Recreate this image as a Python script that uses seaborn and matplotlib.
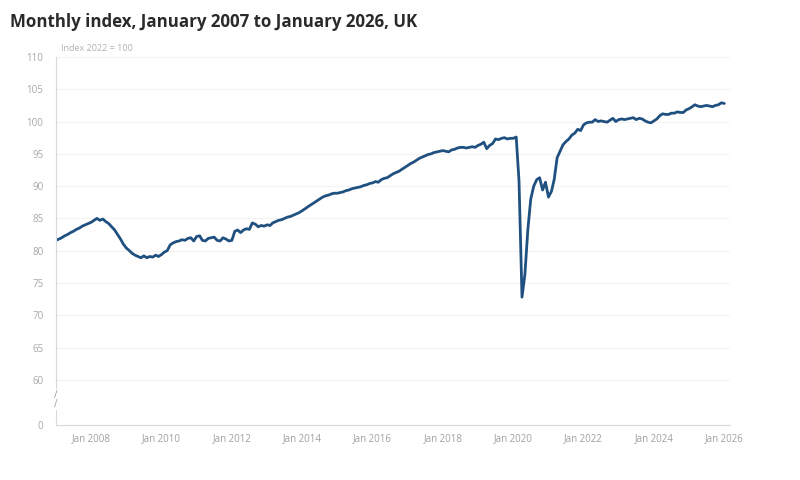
import seaborn as sns
import matplotlib.pyplot as plt
import matplotlib.dates as mdates
import pandas as pd

# --- Data: monthly index values, Jan 2007 to Jan 2026 ---
idx_2007 = [81.6, 81.8, 82.0, 82.3, 82.5, 82.8, 83.0, 83.3, 83.5, 83.8, 84.0, 84.2]
idx_2008 = [84.4, 84.7, 85.0, 84.7, 84.9, 84.5, 84.2, 83.7, 83.2, 82.5, 81.8, 81.0]
idx_2009 = [80.4, 80.0, 79.6, 79.3, 79.1, 78.9, 79.2, 78.9, 79.1, 79.0, 79.3, 79.1]
idx_2010 = [79.4, 79.8, 80.0, 80.9, 81.2, 81.4, 81.5, 81.7, 81.6, 81.9, 82.0, 81.5]
idx_2011 = [82.2, 82.3, 81.6, 81.5, 81.9, 82.0, 82.1, 81.6, 81.5, 82.0, 81.8, 81.5]
idx_2012 = [81.6, 83.0, 83.2, 82.8, 83.2, 83.4, 83.3, 84.3, 84.1, 83.7, 83.9, 83.8]
idx_2013 = [84.0, 83.9, 84.3, 84.5, 84.7, 84.8, 85.0, 85.2, 85.3, 85.5, 85.7, 85.9]
idx_2014 = [86.2, 86.5, 86.8, 87.1, 87.4, 87.7, 88.0, 88.3, 88.5, 88.6, 88.8, 88.9]
idx_2015 = [88.9, 89.0, 89.1, 89.3, 89.4, 89.6, 89.7, 89.8, 89.9, 90.1, 90.2, 90.4]
idx_2016 = [90.5, 90.7, 90.6, 91.0, 91.2, 91.3, 91.6, 91.9, 92.1, 92.3, 92.6, 92.9]
idx_2017 = [93.2, 93.5, 93.7, 94.0, 94.3, 94.5, 94.7, 94.9, 95.0, 95.2, 95.3, 95.4]
idx_2018 = [95.5, 95.4, 95.3, 95.6, 95.7, 95.9, 96.0, 96.0, 95.9, 96.0, 96.1, 96.0]
idx_2019 = [96.3, 96.5, 96.8, 95.8, 96.3, 96.6, 97.3, 97.2, 97.4, 97.5, 97.3, 97.4]
idx_2020 = [97.4, 97.6, 90.8, 72.8, 76.3, 83.3, 88.0, 90.0, 91.0, 91.3, 89.4, 90.6]
idx_2021 = [88.3, 89.2, 91.0, 94.4, 95.4, 96.4, 96.9, 97.3, 97.9, 98.2, 98.8, 98.6]
idx_2022 = [99.5, 99.8, 99.9, 99.9, 100.3, 100.0, 100.1, 100.0, 99.9, 100.2, 100.5, 100.0]
idx_2023 = [100.3, 100.4, 100.3, 100.4, 100.5, 100.6, 100.3, 100.5, 100.4, 100.1, 99.9, 99.8]
idx_2024 = [100.1, 100.4, 100.9, 101.2, 101.1, 101.1, 101.3, 101.3, 101.5, 101.4, 101.4, 101.8]
idx_2025 = [102.0, 102.3, 102.6, 102.4, 102.3, 102.4, 102.5, 102.4, 102.3, 102.5, 102.6, 102.9]
idx_2026 = [102.8]

y_ticks = [60, 65, 70, 75, 80, 85, 90, 95, 100, 105, 110]
x_tick_years = list(range(2008, 2027, 2))

values = (idx_2007 + idx_2008 + idx_2009 + idx_2010 + idx_2011 + idx_2012 + idx_2013
          + idx_2014 + idx_2015 + idx_2016 + idx_2017 + idx_2018 + idx_2019 + idx_2020
          + idx_2021 + idx_2022 + idx_2023 + idx_2024 + idx_2025 + idx_2026)
df = pd.DataFrame({
    "date": pd.date_range("2007-01-01", periods=len(values), freq="MS"),
    "index": values,
})

sns.set_theme(style="white")
plt.rcParams["font.family"] = ["Open Sans", "DejaVu Sans"]

fig = plt.figure(figsize=(8, 4.8), dpi=100)
ax = fig.add_axes([0.07, 0.1146, 0.8425, 0.7667])

sns.lineplot(data=df, x="date", y="index", ax=ax, color="#1f5080", linewidth=2.0)

# axis limits, bottom of y axis shown as 0 with a break
y_bottom = 53
ax.set_ylim(y_bottom, 110)
ax.set_xlim(pd.Timestamp("2007-01-01"), pd.Timestamp("2026-03-01"))
ax.set_yticks([y_bottom] + y_ticks)
ax.set_yticklabels(["0"] + [str(v) for v in y_ticks])
ax.set_xticks([pd.Timestamp(f"{y}-01-01") for y in x_tick_years])
ax.xaxis.set_major_formatter(mdates.DateFormatter("Jan %Y"))

ax.grid(axis="y", color="#f3f3f3", linewidth=0.8)
ax.set_axisbelow(True)
ax.set_xlabel("")
ax.set_ylabel("")

for side in ["top", "right"]:
    ax.spines[side].set_visible(False)
for side in ["left", "bottom"]:
    ax.spines[side].set_color("#d9d9d9")
    ax.spines[side].set_linewidth(0.8)

ax.tick_params(axis="y", length=0, pad=9, labelsize=7, labelcolor="#a8a8a8")
ax.tick_params(axis="x", length=3, width=0.6, color="#dddddd", pad=6,
               labelsize=7, labelcolor="#a0a0a0", direction="in")

# axis break marker
ax.text(0, 56.9, "/\n/", transform=ax.get_yaxis_transform(), ha="center", va="center",
        fontsize=7, color="#9a9a9a", linespacing=0.7,
        bbox=dict(facecolor="white", edgecolor="none", pad=0.5))

# unit label above the plot
ax.text(0.008, 1.012, "Index 2022 = 100", transform=ax.transAxes, ha="left", va="bottom",
        fontsize=6.5, color="#b0b0b0")

fig.text(0.0125, 0.955, "Monthly index, January 2007 to January 2026, UK",
         ha="left", va="center", fontsize=12.2, fontweight="bold", color="#2a2a2a")

fig.savefig("out.png", dpi=100)
